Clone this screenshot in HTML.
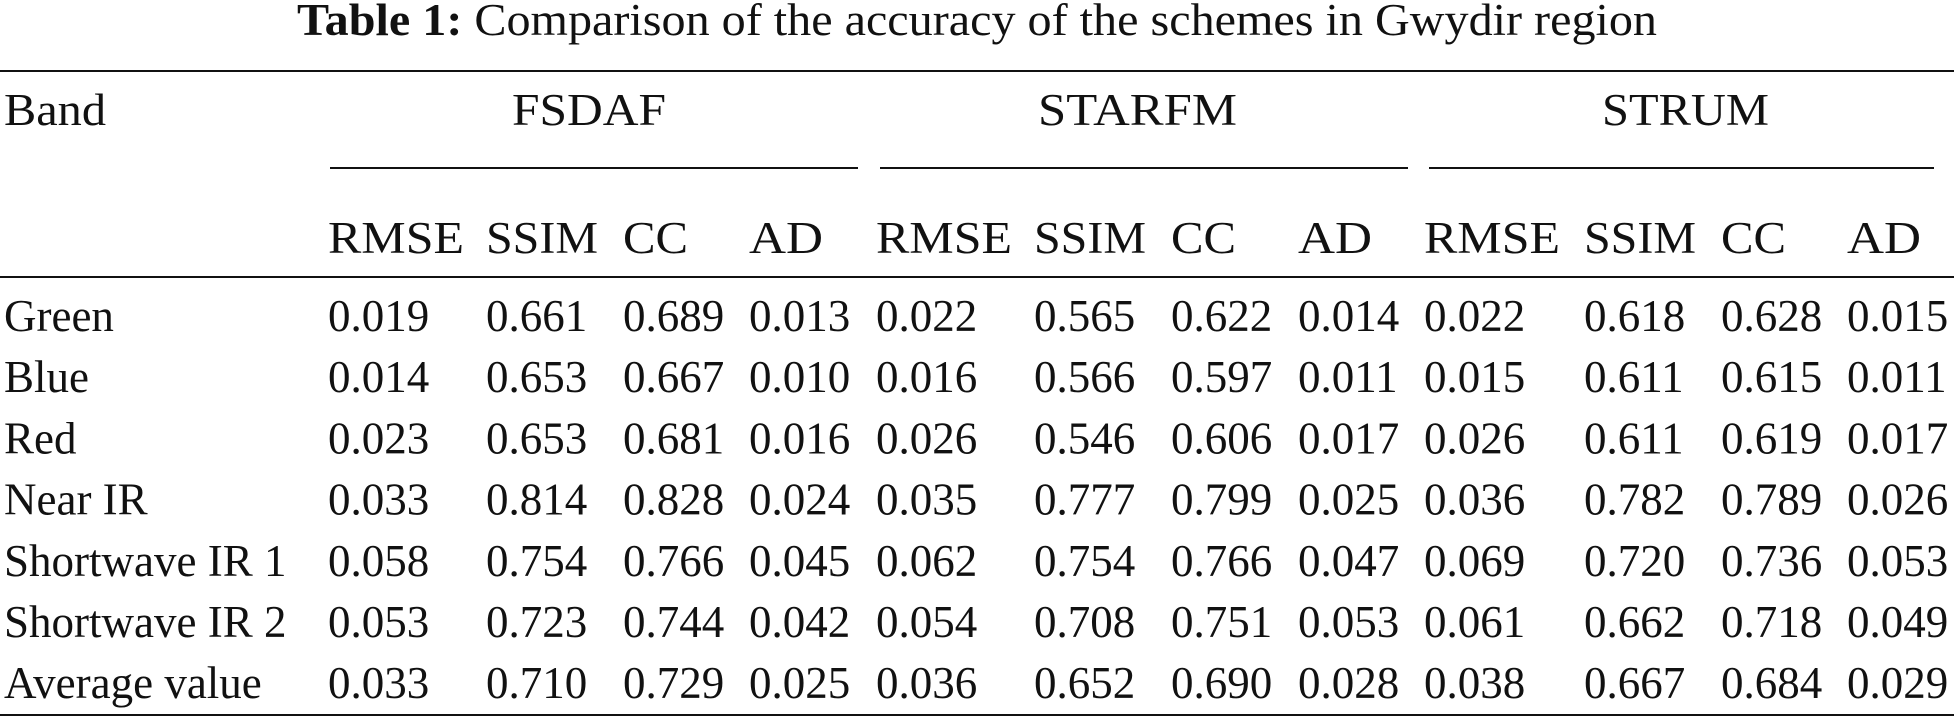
<!DOCTYPE html>
<html><head><meta charset="utf-8"><style>
html,body{margin:0;padding:0;background:#fff;width:1954px;height:722px;overflow:hidden}
svg{display:block}
text{font-family:"Liberation Serif",serif;fill:#111;font-size:45px}
</style></head><body>
<svg width="1954" height="722">
<text x="297" y="35" textLength="1360" lengthAdjust="spacingAndGlyphs" font-size="40"><tspan font-weight="bold">Table 1:</tspan>  Comparison of the accuracy of the schemes in Gwydir region</text>
<line x1="0" x2="1954" y1="71" y2="71" stroke="#111" stroke-width="2"/>
<text x="4" y="125" textLength="102" lengthAdjust="spacingAndGlyphs">Band</text>
<text x="512" y="125" textLength="154" lengthAdjust="spacingAndGlyphs">FSDAF</text>
<text x="1038" y="125" textLength="199" lengthAdjust="spacingAndGlyphs">STARFM</text>
<text x="1602" y="125" textLength="167" lengthAdjust="spacingAndGlyphs">STRUM</text>
<line x1="330" x2="858" y1="168" y2="168" stroke="#111" stroke-width="2"/>
<line x1="880" x2="1408" y1="168" y2="168" stroke="#111" stroke-width="2"/>
<line x1="1429" x2="1934" y1="168" y2="168" stroke="#111" stroke-width="2"/>
<g id="sub"></g>
<line x1="0" x2="1954" y1="277" y2="277" stroke="#111" stroke-width="2"/>
<g id="body"></g>
<line x1="0" x2="1954" y1="715" y2="715" stroke="#111" stroke-width="2"/>
</svg>
<script>
const metrics=["RMSE","SSIM","CC","AD","RMSE","SSIM","CC","AD","RMSE","SSIM","CC","AD"];
const metricW={"RMSE":136,"SSIM":112,"CC":65,"AD":74};
const bands=["Green","Blue","Red","Near IR","Shortwave IR 1","Shortwave IR 2","Average value"];
const values=[
["0.019","0.661","0.689","0.013","0.022","0.565","0.622","0.014","0.022","0.618","0.628","0.015"],
["0.014","0.653","0.667","0.010","0.016","0.566","0.597","0.011","0.015","0.611","0.615","0.011"],
["0.023","0.653","0.681","0.016","0.026","0.546","0.606","0.017","0.026","0.611","0.619","0.017"],
["0.033","0.814","0.828","0.024","0.035","0.777","0.799","0.025","0.036","0.782","0.789","0.026"],
["0.058","0.754","0.766","0.045","0.062","0.754","0.766","0.047","0.069","0.720","0.736","0.053"],
["0.053","0.723","0.744","0.042","0.054","0.708","0.751","0.053","0.061","0.662","0.718","0.049"],
["0.033","0.710","0.729","0.025","0.036","0.652","0.690","0.028","0.038","0.667","0.684","0.029"]];
const colX=[328,486,623,749,876,1034,1171,1298,1424,1584,1721,1847];
const NS="http://www.w3.org/2000/svg";
function t(parent,x,y,s){const e=document.createElementNS(NS,"text");e.setAttribute("x",x);e.setAttribute("y",y);e.textContent=s;parent.appendChild(e);return e;}
const sub=document.getElementById("sub");
metrics.forEach((m,i)=>{const e=t(sub,colX[i],253,m);
e.setAttribute("textLength",metricW[m]);
e.setAttribute("lengthAdjust","spacingAndGlyphs");

});
const body=document.getElementById("body");
bands.forEach((b,r)=>{const y=331+r*61.2;
const l=t(body,4,y,b);


values[r].forEach((v,c)=>{const e=t(body,colX[c],y,v);

});});
</script>
</body></html>
